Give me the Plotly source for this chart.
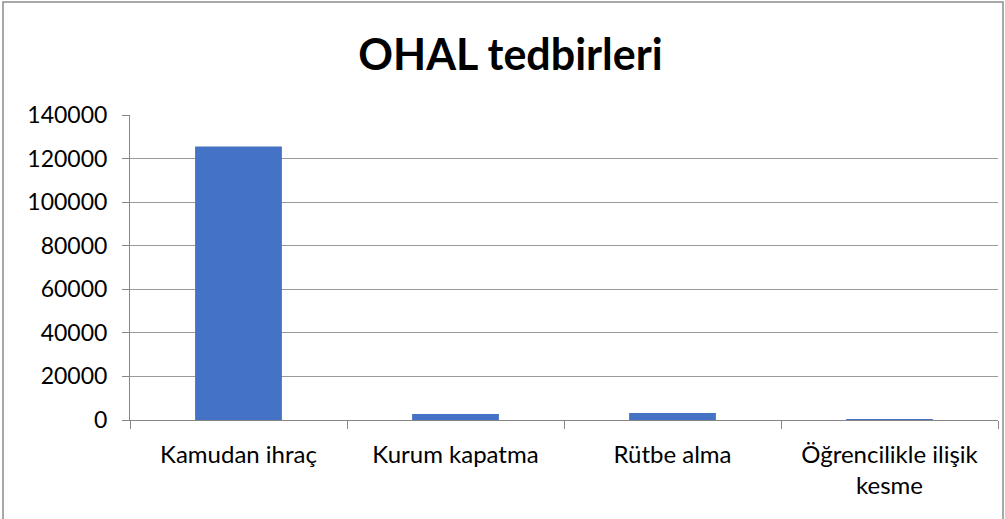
import plotly.graph_objects as go

categories = ["Kamudan ihraç", "Kurum kapatma", "Rütbe alma", "Öğrencilikle ilişik<br>kesme"]
values = [125500, 2800, 3200, 400]
y_ticks = [0, 20000, 40000, 60000, 80000, 100000, 120000, 140000]
y_labels = [str(v) for v in y_ticks]

FONT = "Lato, Noto Sans, sans-serif"
W, H = 1005, 519
ML, MR, MT, MB = 130, 7, 115, 99
pw, ph = W - ML - MR, H - MT - MB

fig = go.Figure(go.Bar(x=categories, y=values, marker=dict(color="#4472C4", line=dict(width=0))))

fig.update_layout(
    width=W, height=H,
    margin=dict(l=ML, r=MR, t=MT, b=MB),
    paper_bgcolor="white", plot_bgcolor="white",
    bargap=0.6,
    showlegend=False,
    title=dict(text="<b>OHAL tedbirleri</b>", x=0.508, xanchor="center", y=0.895, yanchor="middle",
               font=dict(family=FONT, size=43, color="black")),
    font=dict(family=FONT, size=22, color="black"),
    xaxis=dict(type="category", showline=True, linecolor="#868686", linewidth=1,
               ticks="outside", tickson="boundaries", ticklen=8, tickcolor="#868686",
               showgrid=False, automargin=False, ticklabelstandoff=13,
               tickfont=dict(size=24, color="black")),
    yaxis=dict(range=[0, 140000], tickvals=y_ticks, ticktext=y_labels, showline=True, linecolor="#868686",
               ticks="outside", ticklen=7, tickcolor="#868686", automargin=False,
               ticklabelstandoff=10,
               showgrid=True, gridcolor="#9a9a9a", gridwidth=1, zeroline=False,
               tickfont=dict(size=23, color="black")),
)

# outer chart border
fig.add_shape(type="rect", xref="paper", yref="paper",
              x0=(3 - ML) / pw, x1=(1003 - ML) / pw,
              y0=(H - MB - 525) / ph, y1=(H - MB - 2) / ph,
              line=dict(color="#8c8c8c", width=1.5), fillcolor="rgba(0,0,0,0)", layer="below")

fig.write_html("out.html", config={"displayModeBar": False},
               post_script="document.body.style.margin='0';")
